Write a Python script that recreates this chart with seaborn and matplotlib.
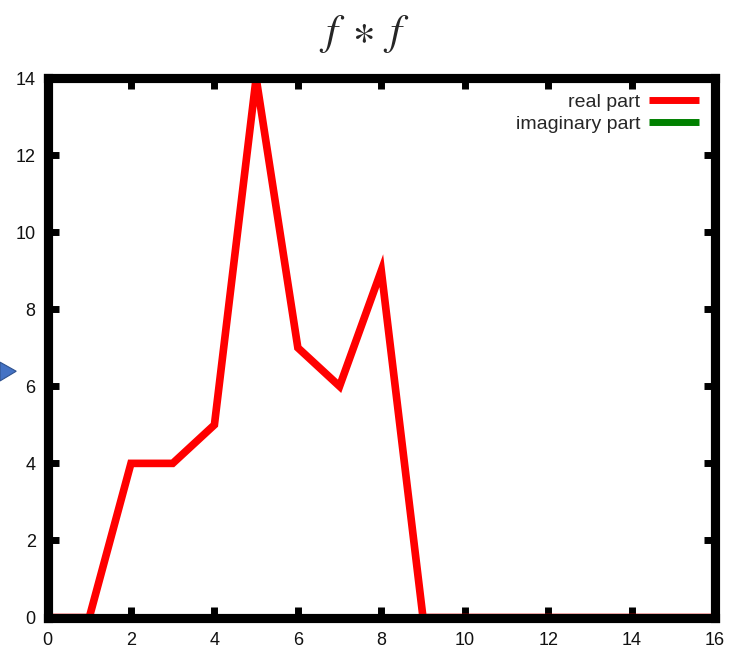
import numpy as np
import pandas as pd
import matplotlib
matplotlib.use("Agg")
import matplotlib.pyplot as plt
import seaborn as sns
from matplotlib.patches import Polygon
from matplotlib.lines import Line2D

# convolution samples f*f on n = 0..16
n = list(range(17))
real_part = [0, 0, 4, 4, 5, 14, 7, 6, 9, 0, 0, 0, 0, 0, 0, 0, 0]
imag_part = [0] * 17
series_names = ["real part", "imaginary part"]
series_colors = ["#ff0000", "#008000"]
x_ticks = [0, 2, 4, 6, 8, 10, 12, 14, 16]
y_ticks = [0, 2, 4, 6, 8, 10, 12, 14]

df = pd.DataFrame({
    "n": n + n,
    "value": real_part + imag_part,
    "part": [series_names[0]] * len(n) + [series_names[1]] * len(n),
})

sns.set_theme(style="white")
plt.rcParams["font.family"] = ["Liberation Sans", "DejaVu Sans"]
plt.rcParams["mathtext.fontset"] = "stix"

fig = plt.figure(figsize=(7.37, 6.49), dpi=100)
ax = fig.add_axes([0.0645, 0.0485, 0.9057, 0.8313])

sns.lineplot(data=df, x="n", y="value", hue="part", hue_order=series_names[::-1],
             palette=dict(zip(series_names, series_colors)), linewidth=5.5,
             ax=ax, legend=False, estimator=None, sort=False)
for ln in ax.get_lines():
    ln.set_solid_joinstyle("miter")
    ln.set_solid_capstyle("butt")
    ln.set_zorder(1)

ax.set_xlim(0, 16)
ax.set_ylim(0, 14)
ax.set_xticks(x_ticks)
ax.set_yticks(y_ticks)
ax.set_xlabel("")
ax.set_ylabel("")
for s in ax.spines.values():
    s.set_linewidth(6.6)
    s.set_color("black")
    s.set_capstyle("projecting")
    s.set_zorder(5)
ax.tick_params(direction="in", length=8, width=5, color="black",
               top=True, right=True, bottom=True, left=True,
               labelsize=13, labelcolor="#111111")
ax.tick_params(axis="x", pad=10.5)
ax.tick_params(axis="y", pad=8.5)

# legend entries: text right-aligned with line sample after it
handles = [Line2D([], [], color=c, lw=5, solid_capstyle="butt") for c in series_colors]
ax.legend(handles, series_names, loc="upper right", frameon=False,
          markerfirst=False, fontsize=14, handlelength=2.6,
          labelspacing=0.2, handletextpad=0.45, borderaxespad=0.4)

fig.text(0.495, 0.948, r"$f\;\ast\;f$", ha="center", va="center", fontsize=31)

# small blue pointer at the left edge
fig.patches.append(Polygon([[0.0, 0.442], [0.0, 0.413], [0.022, 0.428]],
                           closed=True, transform=fig.transFigure,
                           facecolor="#4472c4", edgecolor="#2f528f", lw=0.8))

fig.savefig("out.png", dpi=100)
